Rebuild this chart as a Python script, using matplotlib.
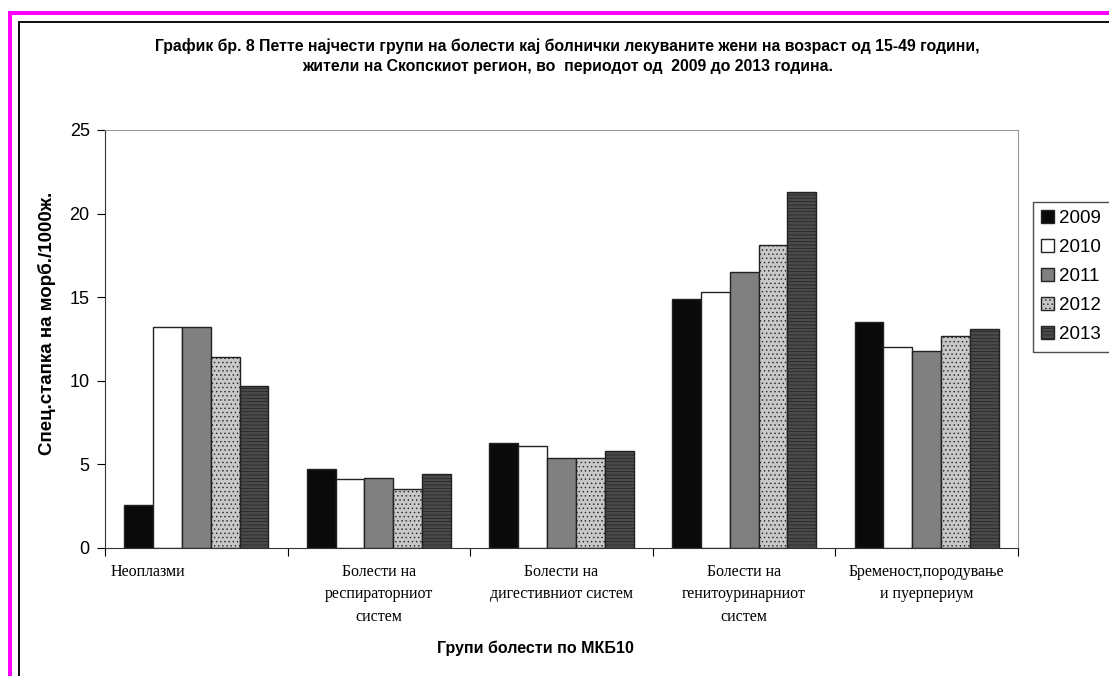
import numpy as np
import matplotlib.pyplot as plt
from matplotlib.patches import Rectangle

categories = [
    "Неоплазми",
    "Болести на\nреспираторниот\nсистем",
    "Болести на\nдигестивниот систем",
    "Болести на\nгенитоуринарниот\nсистем",
    "Бременост,породување\nи пуерпериум",
]
years = ["2009", "2010", "2011", "2012", "2013"]
rates_2009 = [2.6, 4.7, 6.3, 14.9, 13.5]
rates_2010 = [13.2, 4.1, 6.1, 15.3, 12.0]
rates_2011 = [13.2, 4.2, 5.4, 16.5, 11.8]
rates_2012 = [11.4, 3.5, 5.4, 18.1, 12.7]
rates_2013 = [9.7, 4.4, 5.8, 21.3, 13.1]
series = [rates_2009, rates_2010, rates_2011, rates_2012, rates_2013]

styles = [
    dict(facecolor="#0a0a0a", hatch=None),
    dict(facecolor="white", hatch=None),
    dict(facecolor="#808080", hatch=None),
    dict(facecolor="#c8c8c8", hatch="...."),
    dict(facecolor="#4a4a4a", hatch="-----"),
]

plt.rcParams["hatch.color"] = "#9a9a9a"
plt.rcParams["hatch.linewidth"] = 0.5

W, H = 1109, 676
fig = plt.figure(figsize=(W / 100, H / 100), dpi=100)
ax = fig.add_axes([105 / W, 1 - 548 / H, 913 / W, 418 / H])

# frame around the whole chart
def frame_bar(x0, y0, w, h, color):
    fig.patches.append(Rectangle((x0 / W, 1 - (y0 + h) / H), w / W, h / H,
                                 transform=fig.transFigure, facecolor=color, edgecolor="none"))

frame_bar(8, 11, 4, H, "#ff00ff")
frame_bar(8, 11, W, 4, "#ff00ff")
frame_bar(18, 21, 2, H, "#111111")
frame_bar(18, 21, W, 2, "#111111")

x = np.arange(len(categories))
width = 0.158
for i, (year, vals) in enumerate(zip(years, series)):
    ax.bar(x - 2 * width + i * width, vals, width, label=year, edgecolor="#222222",
           linewidth=1.0, **styles[i])

ax.set_xlim(-0.5, len(categories) - 0.5)
ax.set_ylim(0, 25)
ax.set_yticks([0, 5, 10, 15, 20, 25])
ax.set_xticks(np.arange(len(categories) + 1) - 0.5)
ax.set_xticklabels([])
ax.tick_params(axis="y", labelsize=13, length=6, pad=5, direction="out")
ax.tick_params(axis="x", length=6, direction="out")
for lbl in ax.get_yticklabels():
    lbl.set_family("Liberation Sans")

ax.spines["left"].set_color("#333333")
ax.spines["bottom"].set_color("#333333")
ax.spines["top"].set_color("#999999")
ax.spines["right"].set_color("#999999")

for i, name in enumerate(categories):
    ha = "left" if i == 0 else "center"
    xpos = -0.47 if i == 0 else i
    ax.text(xpos, -0.038, name, transform=ax.get_xaxis_transform(), ha=ha, va="top",
            fontsize=11.5, family="Liberation Serif", linespacing=1.55)

fig.text(47 / W, 1 - 323 / H, "Спец.стапка на морб./1000ж.", rotation=90,
         ha="center", va="center", fontsize=13.5, fontweight="bold", family="Liberation Sans")
fig.text(535 / W, 1 - 648 / H, "Групи болести по МКБ10", ha="center", va="center",
         fontsize=11.5, fontweight="bold", family="Liberation Sans")

fig.text(0.512, 1 - 56 / H,
         "График бр. 8 Петте најчести групи на болести кај болнички лекуваните жени на возраст од 15-49 години,\n"
         "жители на Скопскиот регион, во  периодот од  2009 до 2013 година.",
         ha="center", va="center", fontsize=11.4, fontweight="bold", family="Liberation Sans",
         linespacing=1.45)

leg = ax.legend(loc="upper left", bbox_to_anchor=(1.0164, 0.828), fontsize=13.5,
                frameon=True, fancybox=False, edgecolor="#222222", handlelength=0.65,
                handleheight=0.65, handletextpad=0.3, labelspacing=0.64, borderpad=0.45,
                borderaxespad=0, prop={"family": "Liberation Sans", "size": 13.5})
leg.get_frame().set_linewidth(1.0)

fig.savefig("out.png", dpi=100)
